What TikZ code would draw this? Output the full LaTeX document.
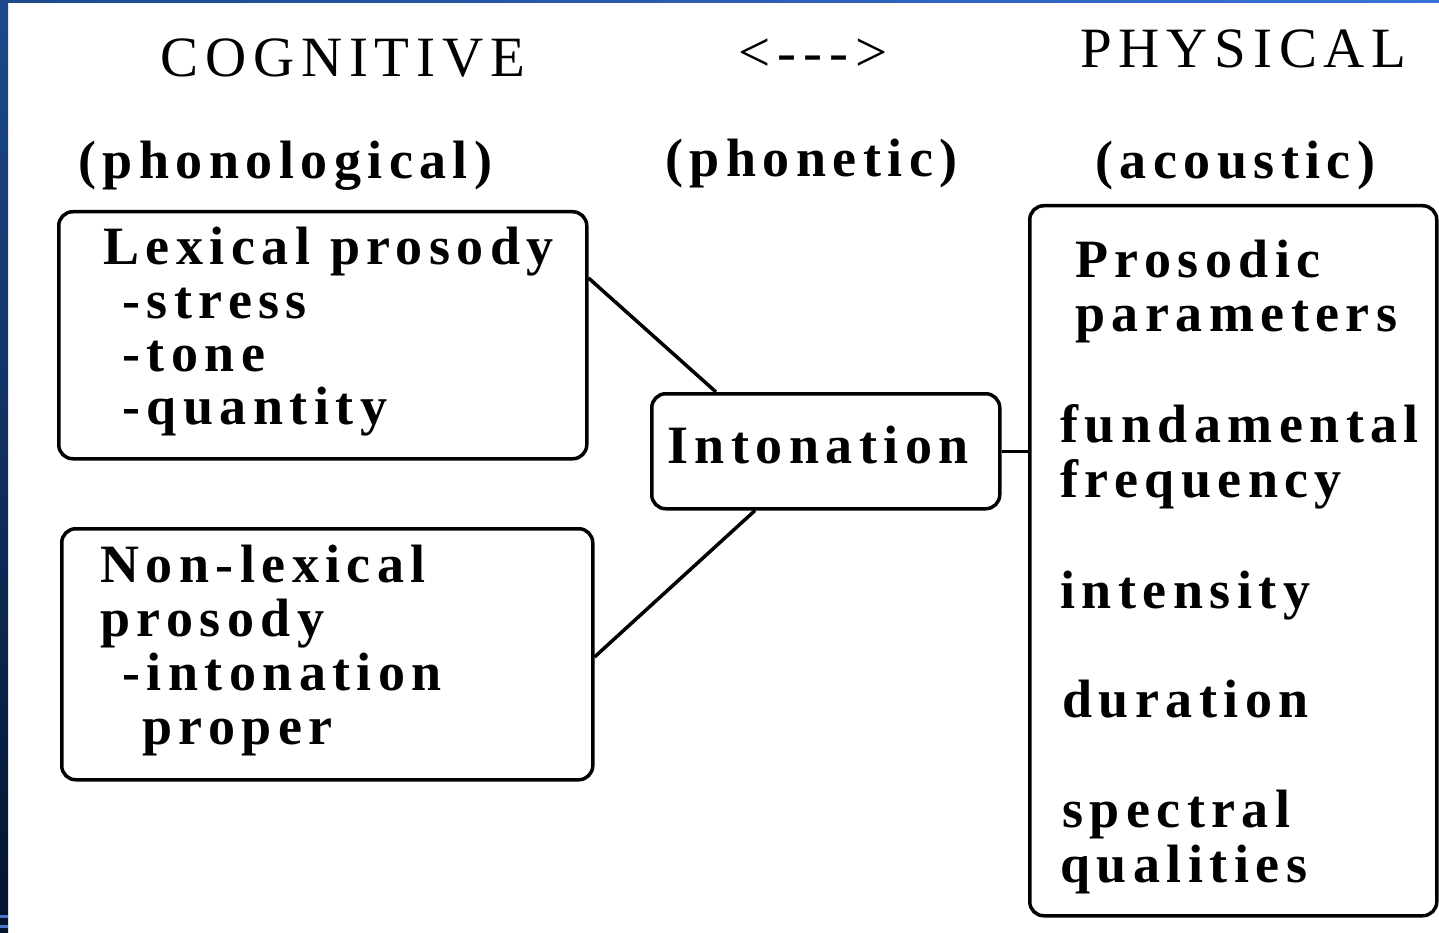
\documentclass[tikz,border=0pt]{standalone}
\usepackage{fontspec}
\setmainfont{Liberation Serif}[LetterSpace=12, Ligatures=TeXOff]
\definecolor{frameA}{HTML}{1C4A8C}
\definecolor{frameB}{HTML}{3A70D8}
\definecolor{frameC}{HTML}{04142E}
\definecolor{stripe}{HTML}{4A78C8}
\begin{document}
\begin{tikzpicture}[x=1pt,y=-1pt,
  box/.style={draw, line width=3.5pt, rounded corners=14pt, anchor=north west, inner sep=0pt},
  lbl/.style={anchor=base west, inner sep=0pt, font=\fontsize{54}{54}\selectfont\bfseries},
  head/.style={anchor=base west, inner sep=0pt, font=\fontsize{57}{57}\selectfont},
  link/.style={line width=3.5pt}]
% background and frame
\fill[white] (0,0) rectangle (1439,933);
\shade[left color=frameA, right color=frameB] (0,0) rectangle (1439,3);
\shade[top color=frameA, bottom color=frameC] (0,0) rectangle (8,933);
\fill[stripe] (0,915) rectangle (8,918);
\fill[stripe] (0,925) rectangle (8,928);
% headings
\node[head] (cog) at (160,77) {COGNITIVE};
\node[head, anchor=base] (arr) at (813,72) {<--->};
\node[head] (phy) at (1080,68) {PHYSICAL};
\node[lbl] (phon) at (78,179) {(phonological)};
\node[lbl] (phonet) at (665,177) {(phonetic)};
\node[lbl] (acou) at (1095,179) {(acoustic)};
% boxes
\node[box, minimum width=528pt, minimum height=247pt] (lex) at (57,210) {};
\node[box, minimum width=531pt, minimum height=251pt] (nonlex) at (60,527) {};
\node[box, minimum width=348pt, minimum height=115pt] (inton) at (650,392) {};
\node[box, minimum width=407pt, minimum height=710pt] (phys) at (1028,204) {};
% lexical texts
\node[lbl] (l1) at (103,265) {Lexical prosody};
\node[lbl] (l2) at (122,318) {-stress};
\node[lbl] (l3) at (122,371) {-tone};
\node[lbl] (l4) at (122,424) {-quantity};
% non-lexical texts
\node[lbl] (n1) at (100,582) {Non-lexical};
\node[lbl] (n2) at (100,636) {prosody};
\node[lbl] (n3) at (122,690) {-intonation};
\node[lbl] (n4) at (142,744) {proper};
% intonation
\node[lbl] (i1) at (667,463) {Intonation};
% physical texts
\node[lbl] (p1) at (1075,277) {Prosodic};
\node[lbl] (p2) at (1075,331) {parameters};
\node[lbl] (p3) at (1060,442) {fundamental};
\node[lbl] (p4) at (1060,497) {frequency};
\node[lbl] (p5) at (1060,608) {intensity};
\node[lbl] (p6) at (1062,717) {duration};
\node[lbl] (p7) at (1062,827) {spectral};
\node[lbl] (p8) at (1060,882) {qualities};
% connectors
\draw[link] ([yshift=-68pt]lex.north east) -- ([xshift=66pt]inton.north west);
\draw[link] ([yshift=-130pt]nonlex.north east) -- ([xshift=105pt]inton.south west);
\draw[link] (inton.east) -- (inton.east -| phys.west);
\end{tikzpicture}
\end{document}
